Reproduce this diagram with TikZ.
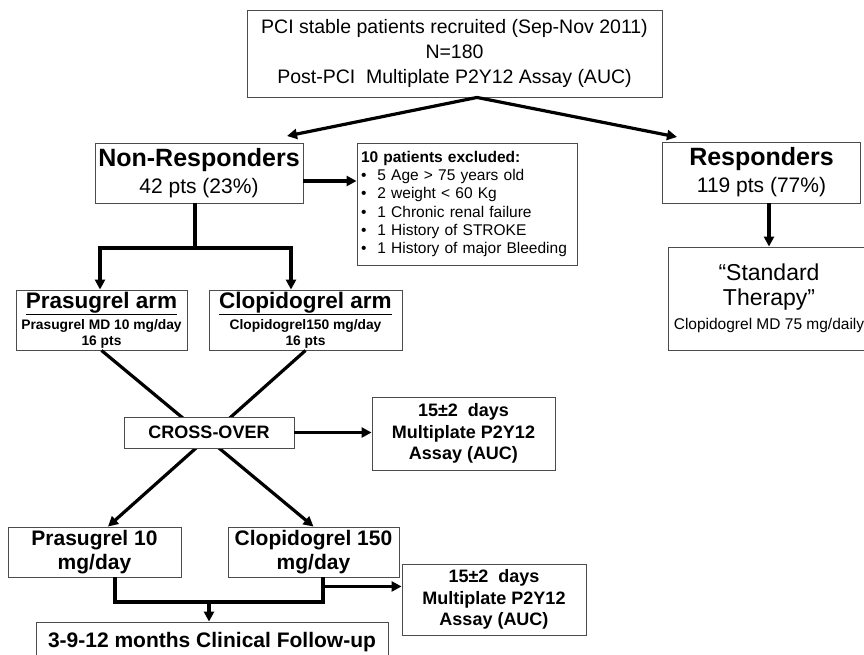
\documentclass[tikz,border=0pt]{standalone}
\usepackage{fontspec}
\setmainfont{Liberation Sans}
\usetikzlibrary{arrows.meta}

\begin{document}
\begin{tikzpicture}[x=1pt, y=-1pt,
    caja/.style={draw=black!70, line width=0.9pt, fill=white, align=center, inner sep=2pt},
    grueso/.style={line width=3.2pt},
    flecha/.style={grueso, -{Triangle[length=10pt, width=10pt]}}]
    \useasboundingbox (0,0) rectangle (864,654);

    % Caja de reclutamiento
    \node[caja, minimum width=415, minimum height=87, font=\fontsize{19.5}{25}\selectfont] (reclut) at (454.5,53.5)
        {PCI stable patients recruited (Sep-Nov 2011)\\N=180\\Post-PCI\ \ Multiplate P2Y12 Assay (AUC)};

    % No respondedores, excluidos y respondedores
    \node[caja, minimum width=208, minimum height=60, font=\fontsize{21}{27}\selectfont] (nores) at (199,173)
        {{\fontsize{25}{27}\selectfont\bfseries Non-Responders}\\42 pts (23\%)};
    \node[caja, align=left, text width=212, inner sep=4pt, minimum height=122, font=\fontsize{15.5}{18.3}\selectfont] (excl) at (467,204)
        {\textbf{10 patients excluded:}\\
         •\hspace{11pt}5 Age > 75 years old\\
         •\hspace{11pt}2 weight < 60 Kg\\
         •\hspace{11pt}1 Chronic\ renal\ failure\\
         •\hspace{11pt}1 History of STROKE\\
         •\hspace{11pt}1 History of major Bleeding};
    \node[caja, minimum width=198, minimum height=61, font=\fontsize{21}{27}\selectfont] (resp) at (761.5,172.5)
        {{\fontsize{25}{27}\selectfont\bfseries Responders}\\119 pts (77\%)};
    \node[caja, minimum width=202, minimum height=103, font=\fontsize{23}{25}\selectfont] (std) at (769,298.5)
        {“Standard\\Therapy”\\[-1pt]{\fontsize{15.5}{24}\selectfont Clopidogrel MD 75 mg/daily}};

    % Flechas desde la caja superior
    \coordinate (puntaNR) at (287,136);
    \coordinate (puntaR) at (677,137);
    \draw[flecha] ([xshift=22.5pt]reclut.south) -- (puntaNR);
    \draw[flecha] ([xshift=22.5pt]reclut.south) -- (puntaR);
    \coordinate (salidaNR) at ([yshift=-8pt]nores.east);
    \draw[flecha] (salidaNR) -- (salidaNR -| excl.west);
    \draw[flecha] (std.north |- resp.south) -- (std.north);

    % Brazos del estudio
    \node[caja, minimum width=171, minimum height=60, font=\fontsize{13.8}{16}\selectfont\bfseries] (prasarm) at (101.5,320)
        {{\fontsize{22.5}{22}\selectfont\underline{Prasugrel arm}}\\[3pt]Prasugrel MD 10 mg/day\\16 pts};
    \node[caja, minimum width=193, minimum height=60, font=\fontsize{13.8}{16}\selectfont\bfseries] (clopiarm) at (305.5,320)
        {{\fontsize{22.5}{22}\selectfont\underline{Clopidogrel arm}}\\[3pt]Clopidogrel150 mg/day\\16 pts};
    \coordinate (bif) at (195,248);
    \draw[grueso] ([xshift=-4pt]nores.south) -- (bif);
    \draw[flecha] (bif) -| ([xshift=-1.5pt]prasarm.north);
    \draw[flecha] (bif) -| ([xshift=-14.5pt]clopiarm.north);

    % Tratamientos tras el cruce
    \node[caja, minimum width=173, minimum height=50, font=\fontsize{21}{24}\selectfont\bfseries] (pras10) at (94.5,552)
        {Prasugrel 10\\mg/day};
    \node[caja, minimum width=171, minimum height=50, font=\fontsize{21}{24}\selectfont\bfseries] (clopi150) at (313.5,552)
        {Clopidogrel 150\\mg/day};

    % Cruce de tratamientos
    \draw[flecha] (prasarm.south) -- (clopi150.north);
    \draw[flecha] (clopiarm.south) -- ([xshift=13.5pt]pras10.north);
    \node[caja, minimum width=170, minimum height=31, font=\fontsize{18}{20}\selectfont\bfseries] (cross) at (209,432.5)
        {CROSS-OVER};
    \node[caja, minimum width=183, minimum height=73, font=\fontsize{18}{21.5}\selectfont\bfseries] (dias1) at (463.5,433.5)
        {15±2\ \ days\\Multiplate P2Y12\\Assay (AUC)};
    \draw[flecha] (cross.east) -- (cross.east -| dias1.west);

    % Seguimiento clinico
    \node[caja, minimum width=184, minimum height=71, font=\fontsize{18}{21.5}\selectfont\bfseries] (dias2) at (494,599.5)
        {15±2\ \ days\\Multiplate P2Y12\\Assay (AUC)};
    \node[caja, minimum width=352, minimum height=40, font=\fontsize{21}{24}\selectfont\bfseries] (seguim) at (212,642)
        {3-9-12 months Clinical Follow-up};
    \coordinate (union) at (209,602);
    \draw[grueso] ([xshift=20.5pt]pras10.south) |- (union) -| ([xshift=9.5pt]clopi150.south);
    \draw[flecha] (union) -- (union |- seguim.north);
    \coordinate (salidaC) at ([xshift=9.5pt, yshift=-9pt]clopi150.south);
    \draw[flecha] (salidaC) -- (salidaC -| dias2.west);
\end{tikzpicture}
\end{document}
